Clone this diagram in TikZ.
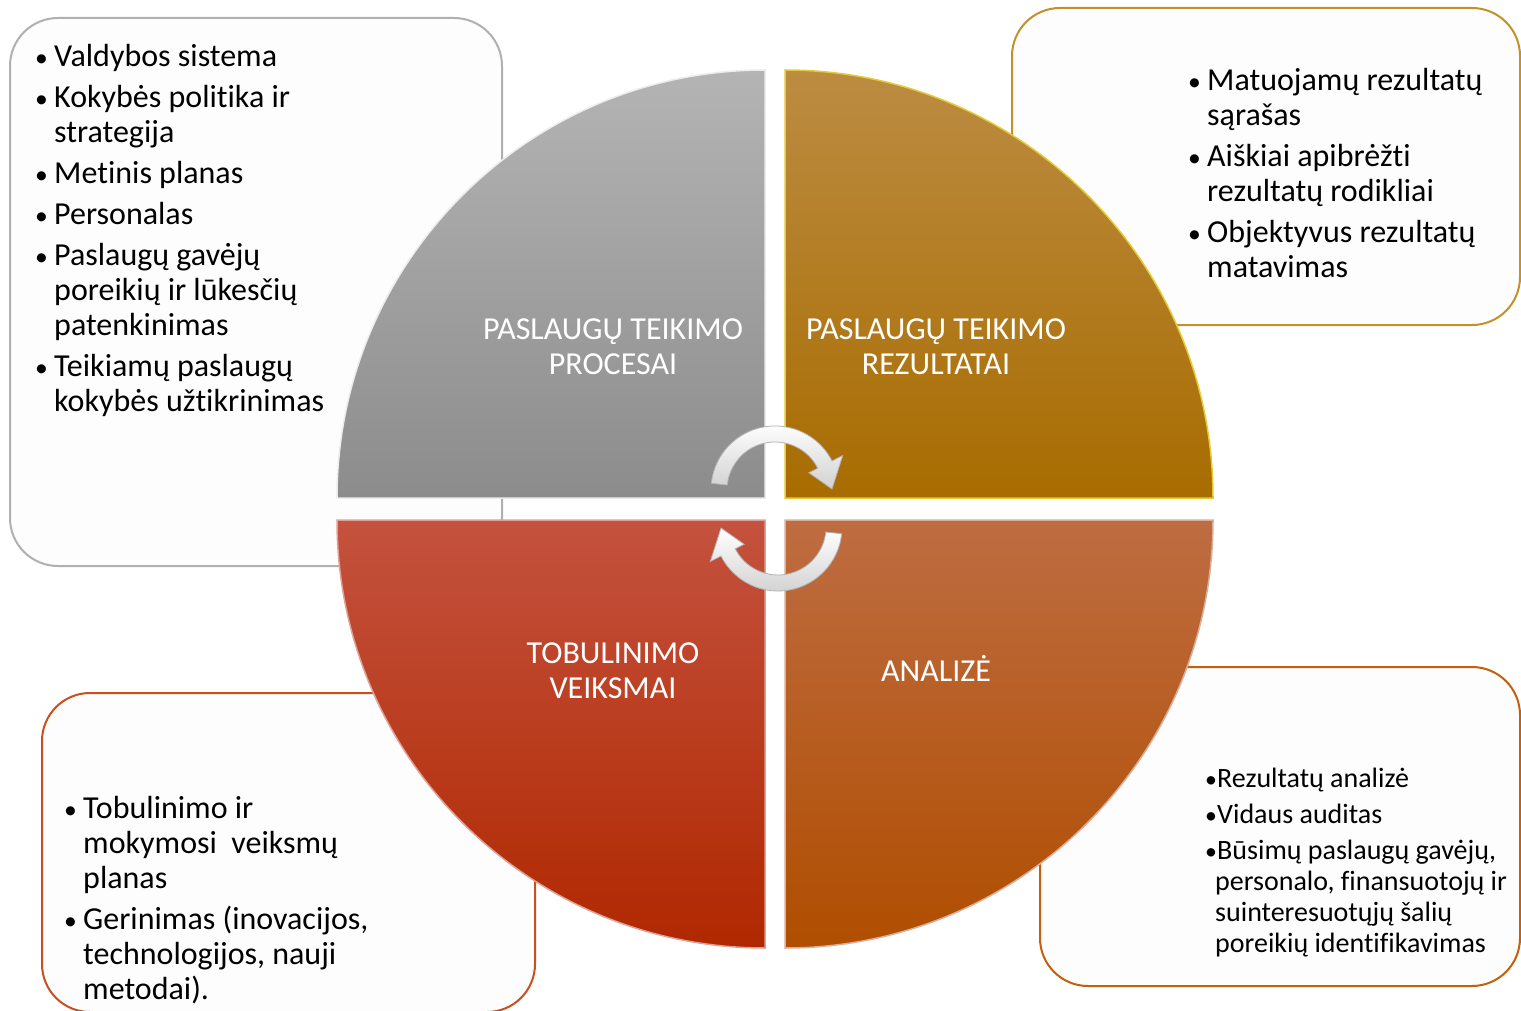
\documentclass[tikz,border=0pt]{standalone}
\usepackage{fontspec}
\setmainfont{Carlito}[Ligatures=NoCommon]
\definecolor{boxfill}{HTML}{FDFDFD}
\definecolor{tlborder}{HTML}{B0B0B0}
\definecolor{trborder}{HTML}{C4902A}
\definecolor{brborder}{HTML}{C2600E}
\definecolor{blborder}{HTML}{C8501E}
\definecolor{graytop}{HTML}{B4B4B4}
\definecolor{graybot}{HTML}{8C8C8C}
\definecolor{goldtop}{HTML}{BC8C42}
\definecolor{goldbot}{HTML}{A86C00}
\definecolor{redtop}{HTML}{C4523E}
\definecolor{redbot}{HTML}{B02800}
\definecolor{browntop}{HTML}{BE6C42}
\definecolor{brownbot}{HTML}{B04E00}
\begin{document}
\begin{tikzpicture}[x=1pt,y=1pt,
  infobox/.style={line width=2pt, rounded corners=48pt, fill=boxfill},
  qlabel/.style={text=white, font=\fontsize{32}{35}\selectfont, align=center, inner sep=0, anchor=base},
  boxtext/.style={anchor=base west, inner sep=0, font=\fontsize{32}{35}\selectfont},
  smalltext/.style={anchor=base west, inner sep=0, font=\fontsize{28}{31}\selectfont},
  cyclearrow/.style={top color=white, bottom color=black!18, draw=black!30, line width=0.8pt}
]
\useasboundingbox (0,0) rectangle (1521,-1011);
\fill[white] (0,0) rectangle (1521,-1011);

% info boxes
\draw[infobox, draw=tlborder] (10,-18) rectangle (502,-566);
\draw[infobox, draw=trborder] (1012,-8) rectangle (1520,-325);
\draw[infobox, draw=brborder] (1040,-667) rectangle (1520,-986);
\draw[infobox, draw=blborder] (42,-693) rectangle (535,-1012);

% quadrants
\shade[top color=graytop, bottom color=graybot]
  (765,-498) -- ++(-428,0) arc[start angle=180, end angle=90, radius=428] -- cycle;
\draw[white!75!graytop, line width=1.5pt]
  (765,-498) -- ++(-428,0) arc[start angle=180, end angle=90, radius=428] -- cycle;
\shade[top color=goldtop, bottom color=goldbot]
  (785,-498) -- ++(0,428) arc[start angle=90, end angle=0, radius=428] -- cycle;
\draw[yellow!55!goldtop, line width=1.5pt]
  (785,-498) -- ++(0,428) arc[start angle=90, end angle=0, radius=428] -- cycle;
\shade[top color=redtop, bottom color=redbot]
  (765,-520) -- ++(-428,0) arc[start angle=180, end angle=270, radius=428] -- cycle;
\draw[white!45!redtop, line width=1.5pt]
  (765,-520) -- ++(-428,0) arc[start angle=180, end angle=270, radius=428] -- cycle;
\shade[top color=browntop, bottom color=brownbot]
  (785,-520) -- ++(428,0) arc[start angle=0, end angle=-90, radius=428] -- cycle;
\draw[white!45!browntop, line width=1.5pt]
  (785,-520) -- ++(428,0) arc[start angle=0, end angle=-90, radius=428] -- cycle;

% cycle arrows
\begin{scope}[shift={(775,-490)}]
  \path[cyclearrow] (174:64) arc[start angle=174, end angle=27, radius=64]
    -- (27:76) -- (1:57) -- (27:38) -- (27:48)
    arc[start angle=27, end angle=174, radius=48] -- cycle;
\end{scope}
\begin{scope}[shift={(778,-527)}, rotate=180]
  \path[cyclearrow] (174:64) arc[start angle=174, end angle=27, radius=64]
    -- (27:76) -- (1:57) -- (27:38) -- (27:48)
    arc[start angle=27, end angle=174, radius=48] -- cycle;
\end{scope}

% quadrant labels (anchor = baseline of last line)
\node[qlabel] (lproc) at (613,-374) {PASLAUGŲ TEIKIMO\\PROCESAI};
\node[qlabel] (lrez) at (936,-374) {PASLAUGŲ TEIKIMO\\REZULTATAI};
\node[qlabel] (ltob) at (613,-698) {TOBULINIMO\\VEIKSMAI};
\node[qlabel] (lanal) at (936,-681) {ANALIZĖ};

% box texts
\newcommand{\bul}{\makebox[21pt][l]{\hspace*{2pt}\scalebox{0.8}{\textbullet}}}
\newcommand{\cont}{\hspace*{21pt}}
\node[boxtext] (ttl) at (33,-67) {\begin{tabular}[t]{@{}l@{}}
\bul Valdybos sistema\\[6pt]
\bul Kokybės politika ir\\
\cont strategija\\[6pt]
\bul Metinis planas\\[6pt]
\bul Personalas\\[6pt]
\bul Paslaugų gavėjų\\
\cont poreikių ir lūkesčių\\
\cont patenkinimas\\[6pt]
\bul Teikiamų paslaugų\\
\cont kokybės užtikrinimas
\end{tabular}};

\node[boxtext] (ttr) at (1186,-91) {\begin{tabular}[t]{@{}l@{}}
\bul Matuojamų rezultatų\\
\cont sąrašas\\[6pt]
\bul Aiškiai apibrėžti\\
\cont rezultatų rodikliai\\[6pt]
\bul Objektyvus rezultatų\\
\cont matavimas
\end{tabular}};

\node[boxtext] (tbl) at (62,-818) {\begin{tabular}[t]{@{}l@{}}
\bul Tobulinimo ir\\
\cont mokymosi\ \ veiksmų\\
\cont planas\\[6pt]
\bul Gerinimas (inovacijos,\\
\cont technologijos, nauji\\
\cont metodai).
\end{tabular}};

\newcommand{\sbul}{\makebox[12pt][l]{\scalebox{0.85}{\textbullet}}}
\newcommand{\scont}{\hspace*{10pt}}
\node[smalltext] (tbr) at (1205,-787) {\begin{tabular}[t]{@{}l@{}}
\sbul Rezultatų analizė\\[5pt]
\sbul Vidaus auditas\\[5pt]
\sbul Būsimų paslaugų gavėjų,\\
\scont personalo, finansuotojų ir\\
\scont suinteresuotųjų šalių\\
\scont poreikių identifikavimas
\end{tabular}};
\end{tikzpicture}
\end{document}
